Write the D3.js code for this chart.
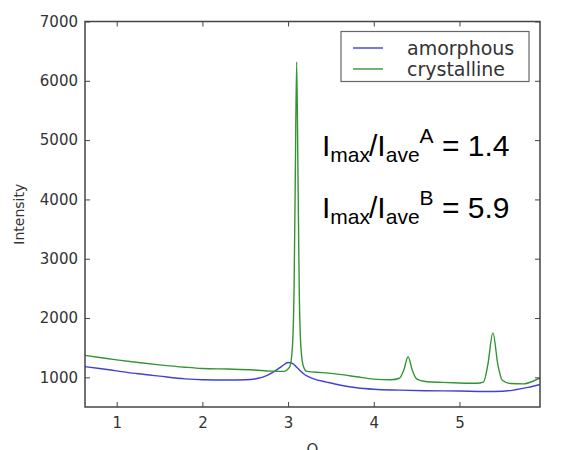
<!DOCTYPE html>
<html>
<head>
<meta charset="utf-8">
<script src="https://cdn.jsdelivr.net/npm/d3@7"></script>
<style>
  html, body { margin: 0; padding: 0; background: #fff; }
  svg { display: block; }
</style>
</head>
<body>
<svg id="chart" width="587" height="450"></svg>
<script>
// Scattering intensity versus Q for the two samples
const qAmorphous = [0.63, 0.8, 1.0, 1.25, 1.5, 1.8, 2.0, 2.3, 2.5, 2.65, 2.75, 2.85, 2.93, 3.0, 3.05, 3.1, 3.2, 3.3, 3.45, 3.6, 3.8, 4.0, 4.3, 4.6, 5.0, 5.3, 5.5, 5.65, 5.8, 5.94];
const iAmorphous = [1180, 1150, 1110, 1060, 1020, 975, 960, 955, 960, 985, 1030, 1110, 1190, 1250, 1235, 1170, 1040, 975, 920, 870, 825, 800, 785, 775, 770, 762, 765, 790, 830, 880];

const qCrystalline = [0.63, 0.8, 1.0, 1.25, 1.5, 1.8, 2.0, 2.3, 2.6, 2.8, 2.95, 3.02, 3.05, 3.07, 3.085, 3.1, 3.115, 3.13, 3.15, 3.18, 3.22, 3.4, 3.6, 3.8, 4.0, 4.2, 4.3, 4.35, 4.4, 4.45, 4.5, 4.6, 4.8, 5.0, 5.2, 5.28, 5.33, 5.39, 5.45, 5.5, 5.6, 5.75, 5.85, 5.94];
const iCrystalline = [1370, 1335, 1295, 1250, 1210, 1170, 1150, 1140, 1125, 1105, 1100, 1180, 1500, 2500, 4500, 6320, 4500, 2500, 1500, 1180, 1100, 1080, 1050, 1010, 970, 960, 985, 1120, 1350, 1120, 975, 930, 915, 905, 900, 920, 1200, 1750, 1200, 950, 895, 890, 930, 990];

const seriesNames = ["amorphous", "crystalline"];
const seriesColors = ["#4040d8", "#339433"];
const xTicks = [1, 2, 3, 4, 5];
const yTicks = [1000, 2000, 3000, 4000, 5000, 6000, 7000];
const ratioLabels = [{sup: "A", value: "1.4"}, {sup: "B", value: "5.9"}];

const svg = d3.select("#chart");
const margin = {left: 85, right: 47, top: 21.5, bottom: 43};
const W = 587, H = 450;
const x = d3.scaleLinear().domain([0.63, 5.94]).range([margin.left, W - margin.right]);
const y = d3.scaleLinear().domain([500, 7000]).range([H - margin.bottom, margin.top]);

const tickFont = "DejaVu Sans, sans-serif";
const axisColor = "#444";

// plot frame background
svg.append("rect")
  .attr("x", x.range()[0]).attr("y", y.range()[1])
  .attr("width", x.range()[1] - x.range()[0])
  .attr("height", y.range()[0] - y.range()[1])
  .attr("fill", "#fff");

// curves
const line = d3.line().curve(d3.curveMonotoneX).x(d => x(d[0])).y(d => y(d[1]));
const series = [
  d3.zip(qAmorphous, iAmorphous),
  d3.zip(qCrystalline, iCrystalline)
];
svg.append("clipPath").attr("id", "plotClip").append("rect")
  .attr("x", x.range()[0]).attr("y", y.range()[1])
  .attr("width", x.range()[1] - x.range()[0])
  .attr("height", y.range()[0] - y.range()[1]);
series.forEach((pts, i) => {
  svg.append("path")
    .datum(pts)
    .attr("clip-path", "url(#plotClip)")
    .attr("fill", "none")
    .attr("stroke", seriesColors[i])
    .attr("stroke-width", 1.4)
    .attr("d", line);
});

// axes with inward ticks on all four sides
function styleAxis(g) {
  g.selectAll(".domain").remove();
  g.selectAll(".tick line").attr("stroke", axisColor).attr("stroke-width", 1);
  g.selectAll(".tick text").attr("fill", "#333").attr("font-family", tickFont).attr("font-size", 15);
}
svg.append("g").attr("transform", `translate(0,${y.range()[0]})`)
  .call(d3.axisBottom(x).tickValues(xTicks).tickFormat(d3.format("d")).tickSizeInner(-5).tickPadding(10))
  .call(styleAxis);
svg.append("g").attr("transform", `translate(0,${y.range()[1]})`)
  .call(d3.axisTop(x).tickValues(xTicks).tickFormat("").tickSizeInner(-5))
  .call(styleAxis);
svg.append("g").attr("transform", `translate(${x.range()[0]},0)`)
  .call(d3.axisLeft(y).tickValues(yTicks).tickFormat(d3.format("d")).tickSizeInner(-5).tickPadding(7))
  .call(styleAxis);
svg.append("g").attr("transform", `translate(${x.range()[1]},0)`)
  .call(d3.axisRight(y).tickValues(yTicks).tickFormat("").tickSizeInner(-5))
  .call(styleAxis);

svg.append("rect")
  .attr("x", x.range()[0]).attr("y", y.range()[1])
  .attr("width", x.range()[1] - x.range()[0])
  .attr("height", y.range()[0] - y.range()[1])
  .attr("fill", "none").attr("stroke", axisColor).attr("stroke-width", 1.5);

// axis titles (the Q label sits partly below the page edge)
svg.append("text")
  .attr("x", (x.range()[0] + x.range()[1]) / 2).attr("y", 455)
  .attr("text-anchor", "middle").attr("font-family", tickFont).attr("font-size", 15).attr("fill", "#333")
  .text("Q");
svg.append("text")
  .attr("transform", `translate(24,${(y.range()[0] + y.range()[1]) / 2}) rotate(-90)`)
  .attr("text-anchor", "middle").attr("font-family", tickFont).attr("font-size", 14).attr("fill", "#333")
  .text("Intensity");

// legend
const lg = svg.append("g");
lg.append("rect").attr("x", 341).attr("y", 31.5).attr("width", 188).attr("height", 50)
  .attr("fill", "#fff").attr("stroke", "#666").attr("stroke-width", 1.2);
seriesNames.forEach((name, i) => {
  const cy = 48 + i * 21;
  lg.append("line").attr("x1", 353).attr("x2", 383).attr("y1", cy).attr("y2", cy)
    .attr("stroke", seriesColors[i]).attr("stroke-width", 1.4);
  lg.append("text").attr("x", 407).attr("y", cy).attr("dy", "0.35em")
    .attr("font-family", tickFont).attr("font-size", 19).attr("fill", "#333").text(name);
});

// peak-to-average ratio annotations
const annFont = "Liberation Sans, Arial, sans-serif";
ratioLabels.forEach((r, i) => {
  const base = 156 + i * 62;
  const t = svg.append("text").attr("x", 322).attr("y", base)
    .attr("font-family", annFont).attr("font-size", 30).attr("fill", "#000");
  t.append("tspan").text("I");
  t.append("tspan").attr("font-size", 21).attr("dy", 6).text("max");
  t.append("tspan").attr("dy", -6).attr("dx", -1).text("/I");
  t.append("tspan").attr("font-size", 21).attr("dy", 6).text("ave");
  t.append("tspan").attr("font-size", 21).attr("dy", -19).text(r.sup);
  t.append("tspan").attr("dy", 13).text(" = " + r.value);
});
</script>
</body>
</html>
